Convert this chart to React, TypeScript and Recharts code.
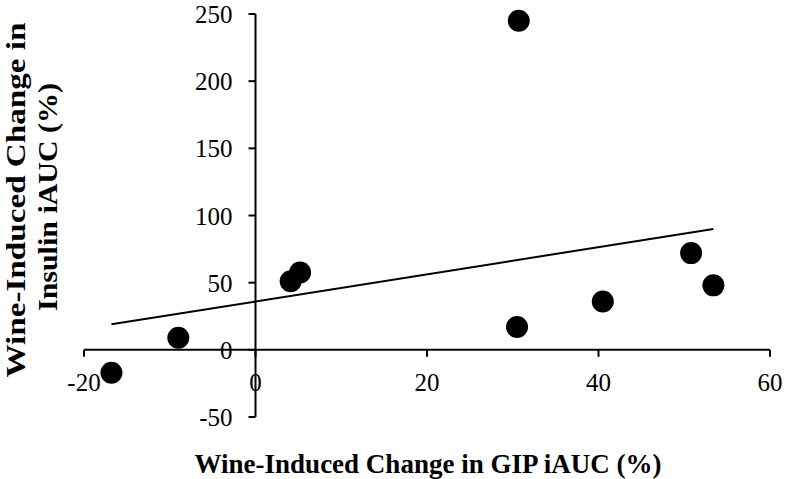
import { ScatterChart, Scatter, XAxis, YAxis, ReferenceLine, ReferenceDot } from "recharts";

const GIP_CHANGE = [-16.8, -9.0, 4.1, 5.2, 30.5, 30.7, 40.5, 50.8, 53.4];
const INSULIN_CHANGE = [-17, 9, 51, 57.5, 17, 245, 36, 72, 48];
const TREND_X = [-16.8, 53.4];
const TREND_Y = [19, 90];
const X_TICKS = [-20, 0, 20, 40, 60];
const Y_TICKS = [-50, 0, 50, 100, 150, 200, 250];

const points = GIP_CHANGE.map((x, i) => ({ x, y: INSULIN_CHANGE[i] }));
const trend = TREND_X.map((x, i) => ({ x, y: TREND_Y[i] }));

const W = 786;
const H = 479;
const SERIF = "'Liberation Serif', 'Times New Roman', serif";
const tickStyle = { fontFamily: SERIF, fontSize: 25, fill: "#000" };
const titleStyle = { fontFamily: SERIF, fontSize: 27, fontWeight: 700, fill: "#000" };

const Dot = (p: any) => <circle cx={p.cx} cy={p.cy} r={11} fill="#000" />;

export default function App() {
  return (
    <div style={{ position: "absolute", left: 0, top: 0, width: W, height: H, background: "#fff" }}>
      <ScatterChart width={W} height={H} margin={{ top: 14, right: 16, bottom: 62, left: 84 }}>
        <XAxis type="number" dataKey="x" domain={[-20, 60]} ticks={X_TICKS} hide />
        <YAxis type="number" dataKey="y" domain={[-50, 250]} ticks={Y_TICKS} hide />
        <ReferenceLine x={0} stroke="#000" strokeWidth={2} />
        <ReferenceLine y={0} stroke="#000" strokeWidth={2} />
        {X_TICKS.map((t) => (
          <ReferenceDot
            key={"x" + t}
            x={t}
            y={0}
            shape={(p: any) => (
              <g>
                <line x1={p.cx} y1={p.cy} x2={p.cx} y2={p.cy + 7} stroke="#000" strokeWidth={2} />
                <text x={p.cx} y={p.cy + 41} textAnchor="middle" style={tickStyle}>
                  {t}
                </text>
              </g>
            )}
          />
        ))}
        {Y_TICKS.map((t) => (
          <ReferenceDot
            key={"y" + t}
            x={0}
            y={t}
            shape={(p: any) => (
              <g>
                <line x1={p.cx - 7} y1={p.cy} x2={p.cx} y2={p.cy} stroke="#000" strokeWidth={2} />
                <text x={p.cx - 23} y={p.cy + 9} textAnchor="end" style={tickStyle}>
                  {t}
                </text>
              </g>
            )}
          />
        ))}
        <Scatter
          data={trend}
          line={{ stroke: "#000", strokeWidth: 2 }}
          shape={() => <g />}
          isAnimationActive={false}
        />
        <Scatter data={points} shape={Dot} isAnimationActive={false} />
      </ScatterChart>
      <svg width={W} height={H} style={{ position: "absolute", left: 0, top: 0, pointerEvents: "none" }}>
        <text x={428} y={473} textAnchor="middle" style={titleStyle}>
          Wine-Induced Change in GIP iAUC (%)
        </text>
        <text
          transform="translate(25,200) rotate(-90)"
          textAnchor="middle"
          textLength={355}
          lengthAdjust="spacingAndGlyphs"
          style={titleStyle}
        >
          Wine-Induced Change in
        </text>
        <text
          transform="translate(57,197) rotate(-90)"
          textAnchor="middle"
          textLength={228}
          lengthAdjust="spacingAndGlyphs"
          style={titleStyle}
        >
          Insulin iAUC (%)
        </text>
      </svg>
    </div>
  );
}
